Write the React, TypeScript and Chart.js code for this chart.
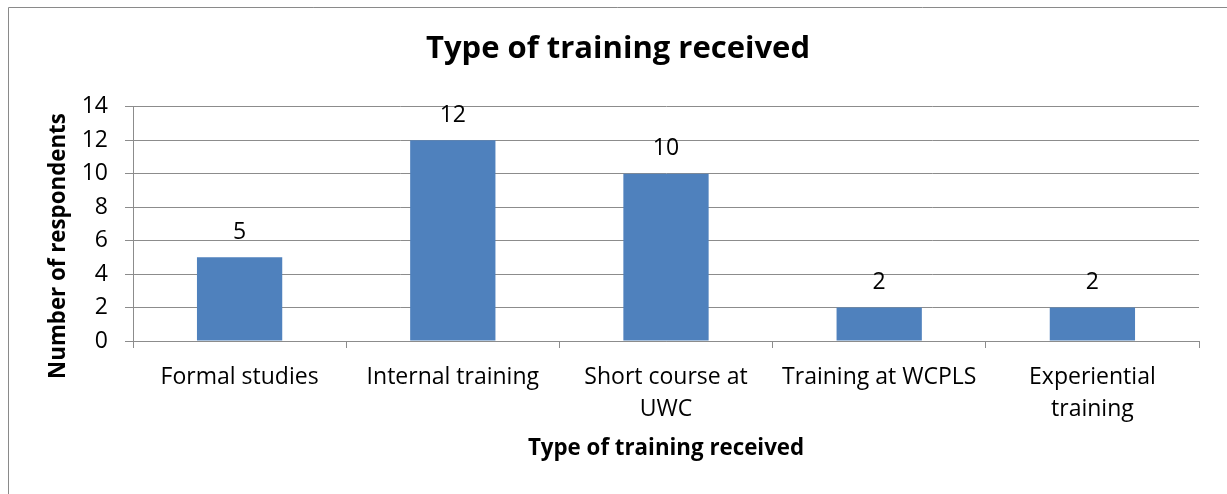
import React, { useEffect, useRef } from "react";
import { Chart, registerables } from "chart.js";

Chart.register(...registerables);

const categories: (string | string[])[] = [
  "Formal studies",
  "Internal training",
  ["Short course at", "UWC"],
  "Training at WCPLS",
  ["Experiential", "training"],
];
const respondents: number[] = [5, 12, 10, 2, 2];
const chartTitle = "Type of training received";
const xTitle = "Type of training received";
const yTitle = "Number of respondents";

const FONT = "'Open Sans'";
const GRID = "#8c8c8c";

const frame = {
  id: "frame",
  beforeDraw(chart: any) {
    const c = chart.ctx;
    c.save();
    c.fillStyle = "#ffffff";
    c.fillRect(0, 0, chart.width, chart.height);
    c.restore();
  },
  afterDraw(chart: any) {
    const c = chart.ctx;
    c.save();
    c.strokeStyle = "#8a8a8a";
    c.lineWidth = 1;
    c.beginPath();
    c.moveTo(8.5, chart.height);
    c.lineTo(8.5, 7.5);
    c.lineTo(chart.width, 7.5);
    c.stroke();
    // y-axis title (extends below the plot area in the reference)
    c.font = `bold 22.3px ${FONT}`;
    c.fillStyle = "#000";
    c.textAlign = "center";
    c.textBaseline = "middle";
    c.translate(59, 246);
    c.rotate(-Math.PI / 2);
    c.fillText(yTitle, 0, 0);
    c.restore();
  },
};

const valueLabels = {
  id: "valueLabels",
  afterDatasetsDraw(chart: any) {
    const c = chart.ctx;
    c.save();
    c.font = `23px ${FONT}`;
    c.fillStyle = "#000";
    c.textAlign = "center";
    c.textBaseline = "middle";
    chart.getDatasetMeta(0).data.forEach((bar: any, i: number) => {
      c.fillText(String(respondents[i]), bar.x, bar.y - 25);
    });
    c.restore();
  },
};

export default function App() {
  const ref = useRef<HTMLCanvasElement>(null);
  useEffect(() => {
    if (!ref.current) return;
    const chart = new Chart(ref.current, {
      type: "bar",
      data: {
        labels: categories,
        datasets: [
          {
            data: respondents,
            backgroundColor: "#4F81BD",
            categoryPercentage: 0.8,
            barPercentage: 0.5,
          },
        ],
      },
      options: {
        animation: false,
        responsive: false,
        layout: { padding: { left: 37, right: 28, top: 0, bottom: 0 } },
        plugins: {
          legend: { display: false },
          tooltip: { enabled: false },
          title: {
            display: true,
            text: chartTitle,
            color: "#000",
            font: { family: FONT, size: 31, weight: "bold", lineHeight: 1.2 },
            padding: { top: 31, bottom: 38.5 },
          },
        },
        scales: {
          x: {
            offset: true,
            grid: {
              display: true,
              offset: true,
              drawOnChartArea: false,
              drawTicks: true,
              tickLength: 7,
              color: GRID,
            },
            border: { display: true, color: GRID },
            ticks: {
              color: "#000",
              padding: 13,
              maxRotation: 0,
              autoSkip: false,
              font: { family: FONT, size: 23, lineHeight: 1.39 },
            },
            title: {
              display: true,
              text: xTitle,
              color: "#000",
              font: { family: FONT, size: 22.3, weight: "bold", lineHeight: 1.2 },
              padding: { top: 0, bottom: 32 },
            },
            afterFit: (s: any) => {
              s.height = 153;
            },
          },
          y: {
            min: 0,
            max: 14,
            ticks: {
              stepSize: 2,
              color: "#000",
              padding: 17,
              font: { family: FONT, size: 23 },
            },
            grid: { color: GRID, tickLength: 8, drawTicks: true },
            border: { display: true, color: GRID },
            title: { display: false, text: yTitle },
            afterFit: (s: any) => {
              s.width = 96;
            },
          },
        },
      },
      plugins: [frame, valueLabels],
    });
    return () => chart.destroy();
  }, []);
  return (
    <div style={{ position: "absolute", left: 0, top: 0, width: 1227, height: 494 }}>
      <canvas ref={ref} width={1227} height={494} style={{ display: "block" }} />
    </div>
  );
}
